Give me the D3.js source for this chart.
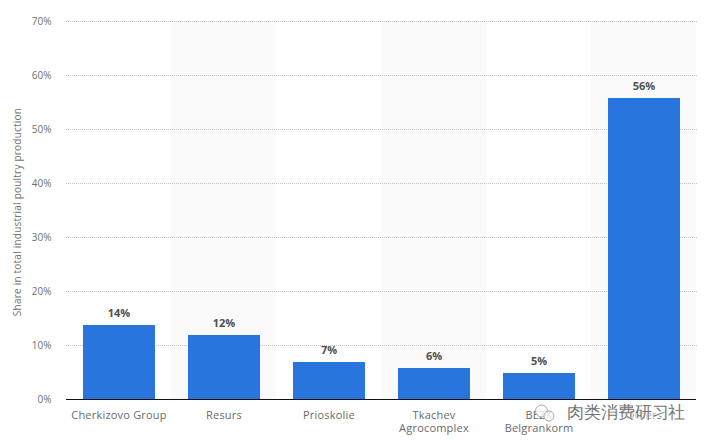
<!DOCTYPE html>
<html><head><meta charset="utf-8">
<script src="https://cdn.jsdelivr.net/npm/d3@7/dist/d3.min.js"></script>
<style>html,body{margin:0;padding:0;background:#fff;overflow:hidden}svg{display:block}text{font-family:"Open Sans","DejaVu Sans",sans-serif}</style>
</head><body><svg id="c" width="706" height="443"></svg>
<script>
const categories = [["Cherkizovo Group"],["Resurs"],["Prioskolie"],["Tkachev","Agrocomplex"],["BEZK","Belgrankorm"],["Others"]];
const shownValues = [14,12,7,6,5,56];
const barValues = [13.8,11.9,6.9,5.8,4.8,55.8];
const yTicks = [0,10,20,30,40,50,60,70];
const yTitle = "Share in total industrial poultry production";
const stamp = "肉类消费研习社";
const faint = "pengling24-701052";
const faintSpots = [[170,50],[385,50],[600,50],[85,175],[275,175],[490,175],[170,300],[385,300],[600,300],[280,405],[480,405]];

const svg = d3.select("#c");
const x = d3.scaleBand().domain(d3.range(barValues.length)).range([66,696]);
const y = d3.scaleLinear().domain([0,70]).range([399.3,21.3]);
const barW = 72;
const barX = i => x(i) + Math.ceil((x.bandwidth()-barW)/2);

svg.append("g").selectAll("rect").data(d3.range(barValues.length).filter(i=>i%2==1)).join("rect")
  .attr("x",i=>x(i)).attr("width",x.bandwidth()).attr("y",y(70)).attr("height",y(0)-y(70)).attr("fill","#fafafa");

svg.append("g").selectAll("text").data(faintSpots).join("text")
  .attr("transform",d=>`translate(${d[0]},${d[1]}) rotate(-22)`).attr("text-anchor","middle")
  .attr("font-size",14).attr("fill","#000").attr("fill-opacity",.018).text(faint);

svg.append("g").selectAll("line").data(yTicks.filter(t=>t>0)).join("line")
  .attr("x1",66).attr("x2",697).attr("y1",d=>Math.floor(y(d))+.5).attr("y2",d=>Math.floor(y(d))+.5)
  .attr("stroke","#c4c4c4").attr("stroke-width",1).attr("stroke-dasharray","1 1");

svg.append("g").selectAll("text").data(yTicks).join("text")
  .attr("x",51.5).attr("y",d=>y(d)+3.5).attr("text-anchor","end").attr("font-size",10).attr("fill","#707070")
  .text(d=>d+"%");

svg.append("text").attr("transform","translate(20.5,212) rotate(-90)").attr("text-anchor","middle")
  .attr("font-size",10).attr("letter-spacing",.22).attr("fill","#707070").text(yTitle);

svg.append("g").selectAll("rect").data(barValues).join("rect")
  .attr("x",(d,i)=>barX(i)).attr("width",barW)
  .attr("y",d=>Math.round(y(d))).attr("height",d=>399.5-Math.round(y(d))).attr("fill","#2875de");

svg.append("line").attr("x1",66).attr("x2",696).attr("y1",399.5).attr("y2",399.5).attr("stroke","#111").attr("stroke-width",1);

svg.append("g").selectAll("text").data(shownValues).join("text")
  .attr("x",(d,i)=>barX(i)+barW/2).attr("y",(d,i)=>y(barValues[i])-8).attr("text-anchor","middle")
  .attr("font-size",11).attr("font-weight",700).attr("fill","#505050").text(d=>d+"%");

const labels = svg.append("g").selectAll("text").data(categories).join("text")
  .attr("text-anchor","middle").attr("font-size",11).attr("letter-spacing",.2).attr("fill","#6a6a6a");
labels.each(function(lines,i){
  d3.select(this).selectAll("tspan").data(lines).join("tspan")
    .attr("x",barX(i)+barW/2).attr("y",(d,j)=>419+j*12.5).text(d=>d);
});

const mark = svg.append("g");
mark.append("circle").attr("cx",541.5).attr("cy",411).attr("r",6).attr("fill","#fff").attr("fill-opacity",.8).attr("stroke","#aaa");
mark.append("circle").attr("cx",549).attr("cy",416).attr("r",5).attr("fill","#fff").attr("fill-opacity",.8).attr("stroke","#aaa");
mark.append("text").attr("x",567).attr("y",418).attr("font-family","'Noto Sans CJK SC'").attr("font-size",16.5).attr("letter-spacing",-.1)
  .attr("fill","#fff").attr("stroke","#fff").attr("stroke-width",3).attr("stroke-opacity",.7).text(stamp);
mark.append("text").attr("x",567).attr("y",418).attr("font-family","'Noto Sans CJK SC'").attr("font-size",16.5).attr("letter-spacing",-.1)
  .attr("fill","#757575").text(stamp);
</script></body></html>
